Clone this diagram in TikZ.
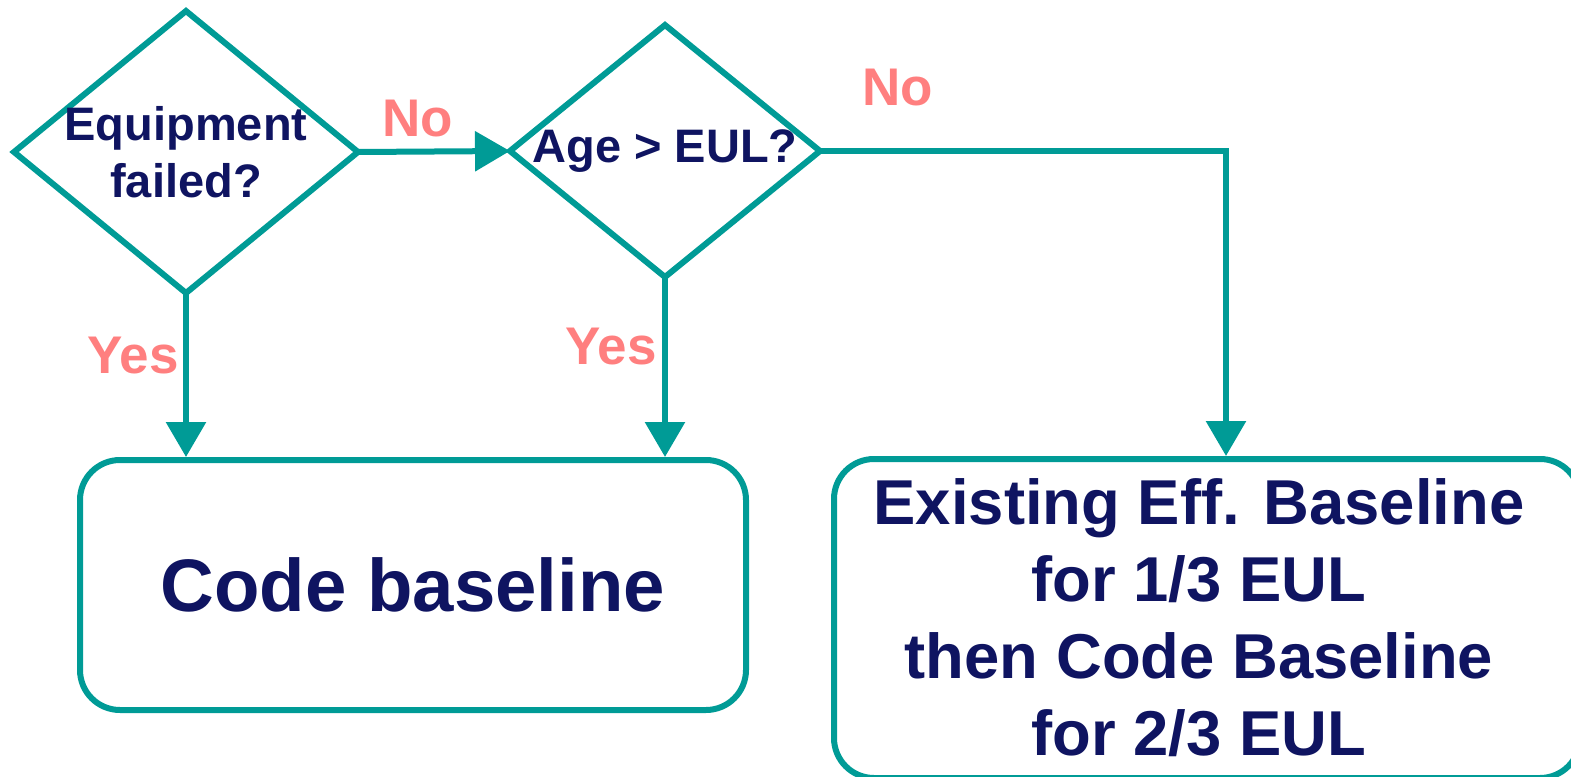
\documentclass[tikz,border=0pt]{standalone}
\usepackage{fontspec}
\setmainfont{Liberation Sans}
\usetikzlibrary{
    shapes.geometric,
    arrows.meta,
    calc
}
\definecolor{flowteal}{HTML}{009B96}
\definecolor{flownavy}{HTML}{0F1461}
\definecolor{flowpink}{HTML}{FF7F7F}
\tikzset {
    decision/.style = {diamond, draw = flowteal, line width = 3pt, inner sep = 0pt, outer sep = 0pt},
    outcome/.style = {
        rectangle, rounded corners = 20pt,
        draw = flowteal, line width = 3pt,
        align = center, text = flownavy
    },
    question/.style = {
        text = flownavy, align = center,
        font = \bfseries\fontsize{23.5}{28.5}\selectfont
    },
    answer/.style = {text = flowpink, font = \bfseries\fontsize{26.5}{31}\selectfont},
    flow/.style = {
        draw = flowteal, line width = 3pt,
        arrows = {-Triangle[length = 17.5pt, width = 19.5pt]}
    }
}

\begin{document}
\begin{tikzpicture}[x = 0.5pt, y = -0.5pt]
            \useasboundingbox (0, 0) rectangle (1571, 777);
            \node (d1) [decision, minimum width = 172pt, minimum height = 141pt] at (186, 152) {};
            \node (d2) [decision, minimum width = 155pt, minimum height = 126pt] at (665, 151) {};
            \node (q1) [question] at (d1) {Equipment\\failed?};
            \node (q2) [question] at (d2) {Age > EUL?};
            \node (b1) [outcome, minimum width = 333pt, minimum height = 125pt,
                font = \bfseries\fontsize{37.2}{44}\selectfont] at (413, 585) {Code baseline};
            \node (b2) [outcome, minimum width = 373pt, minimum height = 159.5pt] at (1207, 618.5) {};
            \node (t2) [text = flownavy, align = center,
                font = \bfseries\fontsize{31.7}{38.5}\selectfont] at (1199, 618)
                {Existing Eff. Baseline\\for 1/3 EUL\\then Code Baseline\\for 2/3 EUL};
            \draw [flow] (d1.east) -- (d2.west);
            \draw [flow] (d1.south) -- (d1.south |- b1.north);
            \draw [flow] (d2.south) -- (d2.south |- b1.north);
            \draw [flow] (d2.east) -| ($(b2.north) + (19, 0)$);
            \node (no1) [answer] at (418, 119) {No};
            \node (no2) [answer] at (898, 88) {No};
            \node (yes1) [answer] at (133, 356) {Yes};
            \node (yes2) [answer] at (611, 347) {Yes};
        \end{tikzpicture}
\end{document}
